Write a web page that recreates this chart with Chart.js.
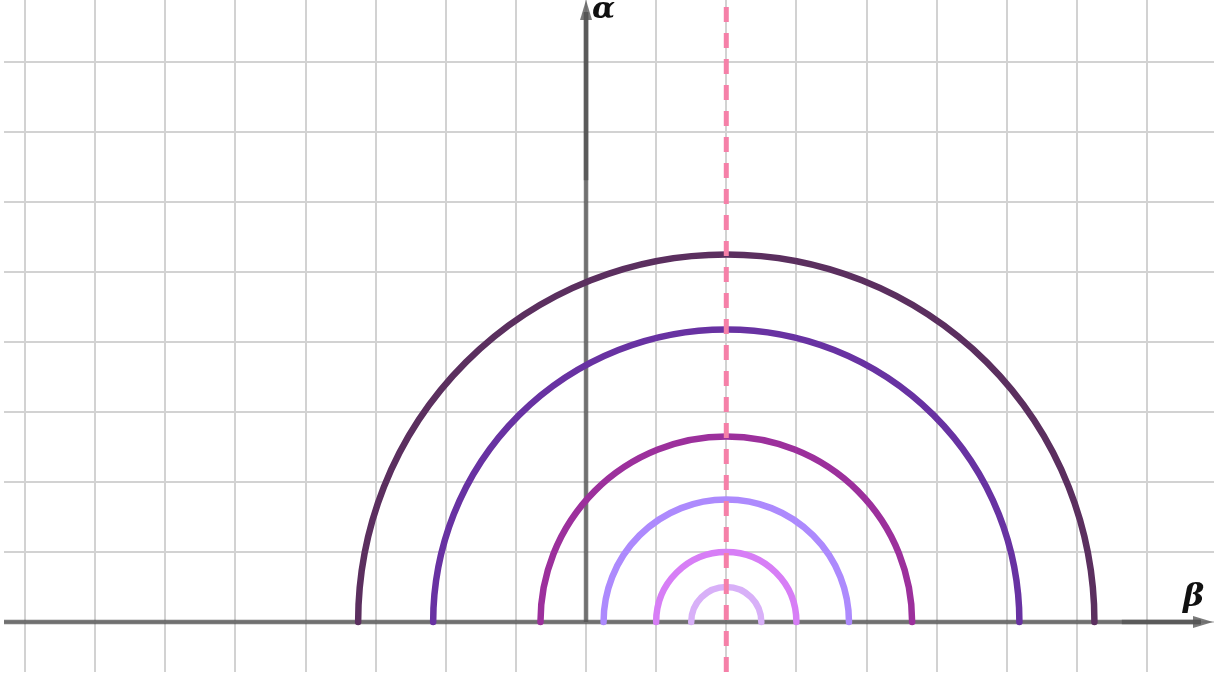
<!DOCTYPE html>
<html>
<head>
<meta charset="utf-8">
<script src="https://cdn.jsdelivr.net/npm/chart.js@4"></script>
<style>
  html, body { margin: 0; padding: 0; background: #fff; }
  #wrap { width: 1222px; height: 676px; }
</style>
</head>
<body>
<div id="wrap"><canvas id="arcChart" width="1222" height="676"></canvas></div>
<script>
// semicircles centred on the dashed line, radii in axis units
const centerX = 2;
const radii = [5.25, 4.18, 2.65, 1.75, 1.0, 0.5];
const arcColors = ['#5b2f5f', '#6832a2', '#9c309c', '#ad8afd', '#d77ef6', '#d8b0f8'];

// visible window of the axes
const xRange = [-8.3, 8.955];
const yRange = [-0.714, 8.886];

// one grid line per whole unit
function wholeTicks(scale) {
    const ticks = [];
    for (let v = Math.ceil(scale.min); v <= Math.floor(scale.max); v++) {
        ticks.push({ value: v });
    }
    scale.ticks = ticks;
}

// draw axes + arrows + semicircles with the chart scales
const arcsPlugin = {
    id: 'arcs',
    beforeDatasetsDraw(chart) {
        const ctx = chart.ctx;
        const xs = chart.scales.x;
        const ys = chart.scales.y;
        const x0 = xs.getPixelForValue(0);
        const y0 = ys.getPixelForValue(0);
        const left = chart.chartArea.left;
        const right = chart.chartArea.right - 1;
        const top = chart.chartArea.top;

        ctx.save();
        ctx.strokeStyle = 'rgba(85,85,85,0.78)';
        ctx.fillStyle = 'rgba(85,85,85,0.78)';
        ctx.lineWidth = 4.5;

        // x axis
        ctx.beginPath();
        ctx.moveTo(left, y0);
        ctx.lineTo(right - 12, y0);
        ctx.stroke();
        ctx.beginPath();
        ctx.moveTo(xs.getPixelForValue(7.64), y0);
        ctx.lineTo(right - 12, y0);
        ctx.stroke();
        ctx.beginPath();
        ctx.moveTo(right, y0);
        ctx.lineTo(right - 20, y0 - 6);
        ctx.lineTo(right - 20, y0 + 6);
        ctx.closePath();
        ctx.fill();

        // y axis
        ctx.beginPath();
        ctx.moveTo(x0, y0);
        ctx.lineTo(x0, top + 12);
        ctx.stroke();
        ctx.beginPath();
        ctx.moveTo(x0, ys.getPixelForValue(6.31));
        ctx.lineTo(x0, top + 12);
        ctx.stroke();
        ctx.beginPath();
        ctx.moveTo(x0, top);
        ctx.lineTo(x0 - 6, top + 20);
        ctx.lineTo(x0 + 6, top + 20);
        ctx.closePath();
        ctx.fill();

        // semicircles
        const cx = xs.getPixelForValue(centerX);
        ctx.lineWidth = 6.5;
        ctx.lineCap = 'round';
        radii.forEach((r, i) => {
            const rx = xs.getPixelForValue(centerX + r) - cx;
            const ry = y0 - ys.getPixelForValue(r);
            ctx.strokeStyle = arcColors[i];
            ctx.beginPath();
            ctx.ellipse(cx, y0, rx, ry, 0, Math.PI, 2 * Math.PI);
            ctx.stroke();
        });

        // axis labels
        ctx.fillStyle = '#111';
        ctx.textBaseline = 'alphabetic';
        ctx.font = 'bold italic 30px "DejaVu Serif"';
        ctx.fillText('α', x0 + 6, top + 18);
        ctx.font = 'bold italic 32px "DejaVu Serif"';
        ctx.fillText('β', right - 30, y0 - 16);
        ctx.restore();
    }
};

const ctx = document.getElementById('arcChart').getContext('2d');
new Chart(ctx, {
    type: 'scatter',
    data: {
        datasets: [{
            // dashed symmetry line x = centerX
            data: [{ x: centerX, y: yRange[0] }, { x: centerX, y: yRange[1] }],
            showLine: true,
            borderColor: '#f580a8',
            borderWidth: 5,
            borderDash: [15, 11],
            pointRadius: 0
        }]
    },
    options: {
        responsive: false,
        animation: false,
        layout: { padding: { left: 4, right: 8, top: 0, bottom: 4 } },
        plugins: {
            legend: { display: false },
            tooltip: { enabled: false }
        },
        scales: {
            x: {
                type: 'linear',
                min: xRange[0],
                max: xRange[1],
                ticks: { display: false },
                afterBuildTicks: wholeTicks,
                grid: { color: '#d2d2d2', lineWidth: 2, drawTicks: false },
                border: { display: false }
            },
            y: {
                type: 'linear',
                min: yRange[0],
                max: yRange[1],
                ticks: { display: false },
                afterBuildTicks: wholeTicks,
                grid: { color: '#d2d2d2', lineWidth: 2, drawTicks: false },
                border: { display: false }
            }
        }
    },
    plugins: [arcsPlugin]
});
</script>
</body>
</html>
